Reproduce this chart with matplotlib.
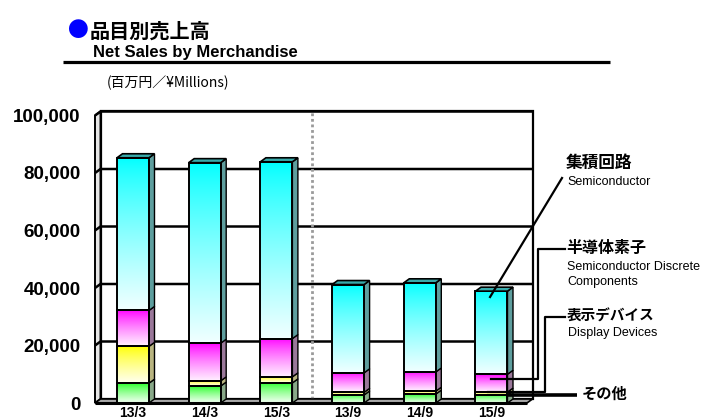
import numpy as np
import matplotlib
matplotlib.use('Agg')
import matplotlib.pyplot as plt
from matplotlib.patches import Polygon
from matplotlib.lines import Line2D

# ---------------- data ----------------
periods = ['13/3', '14/3', '15/3', '13/9', '14/9', '15/9']
others = [6900, 5900, 7000, 2800, 3100, 2800]          # その他
display = [12800, 1800, 2100, 900, 1000, 1000]         # 表示デバイス
discrete = [12500, 13100, 13300, 6800, 6700, 6200]     # 半導体素子
semicon = [53100, 62800, 61500, 30700, 31000, 28900]   # 集積回路
yticks = [0, 20000, 40000, 60000, 80000, 100000]
ytick_labels = ['0', '20,000', '40,000', '60,000', '80,000', '100,000']

CJK = 'Noto Sans CJK JP'
LAT = 'Liberation Sans'

W, H = 701, 419
fig = plt.figure(figsize=(W / 100, H / 100), dpi=100)

# layout in pixels
AX_L, AX_R, AX_T, AX_B = 95, 535, 108, 403
X0PX, XSTEP = 133, 71.7          # first bar center, spacing
YPX = 2.875                      # px per 1000
ax = fig.add_axes([AX_L / W, (H - AX_B) / H, (AX_R - AX_L) / W, (AX_B - AX_T) / H])
ax.set_xlim((AX_L - X0PX) / XSTEP, (AX_R - X0PX) / XSTEP)
ax.set_ylim(0, (AX_B - AX_T) / YPX * 1000)
for s in ax.spines.values():
    s.set_visible(False)


def px2data(px, py):
    return (px - X0PX) / XSTEP, (AX_B - py) / YPX * 1000


dx = 5.5 / XSTEP
dy = 4 / YPX * 1000
bw = 32 / XSTEP
xl = (95 - X0PX) / XSTEP
xr = (527 - X0PX) / XSTEP
ymax = yticks[-1]

# back wall
ax.add_patch(Polygon([(xl + dx, dy), (xr + dx, dy), (xr + dx, ymax + dy), (xl + dx, ymax + dy)],
                     closed=True, facecolor='white', edgecolor='black', lw=1.6, zorder=1, clip_on=False))
# left wall
ax.add_patch(Polygon([(xl, 0), (xl + dx, dy), (xl + dx, ymax + dy), (xl, ymax)],
                     closed=True, facecolor='#E6E6E6', edgecolor='black', lw=1.4, zorder=1.2, clip_on=False))
# gridlines
for v in yticks[1:]:
    ax.plot([xl, xl + dx, xr + dx], [v, v + dy, v + dy], color='black', lw=1.8, zorder=1.5,
            clip_on=False, solid_capstyle='butt')
# separator
ax.plot([2.5, 2.5], [dy, ymax + dy], color='#9A9A9A', lw=2, ls=(0, (1, 1)), zorder=1.6, clip_on=False)
# floor
ax.add_patch(Polygon([(xl, 0), (xl + dx, dy), (xr + dx, dy), (xr, 0)],
                     closed=True, facecolor='#A8A8A8', edgecolor='black', lw=1.2, zorder=1.8, clip_on=False))

series = [others, display, discrete, semicon]
tops = [(0.15, 1.0, 0.15), (1.0, 1.0, 0.0), (1.0, 0.0, 1.0), (0.0, 1.0, 1.0)]
sides = ['#88A888', '#B8B480', '#9A789A', '#5E9E9E']
top_face = '#38ABAB'


def gradient(c_top, c_bot, n=64):
    c_top = np.array(c_top)
    c_bot = np.array(c_bot)
    t = (np.linspace(0, 1, n) ** 0.8)[:, None]
    g = c_top * (1 - t) + c_bot * t
    return g[:, None, :]


x = np.arange(len(periods))
bottom = np.zeros(len(periods))
for s, vals in enumerate(series):
    vals = np.array(vals, dtype=float)
    ctop = tops[s]
    cbot = tuple(0.94 + 0.06 * c for c in ctop)
    for i in range(len(periods)):
        b, t = bottom[i], bottom[i] + vals[i]
        x0, x1 = x[i] - bw / 2, x[i] + bw / 2
        ax.imshow(gradient(ctop, cbot), extent=[x0, x1, b, t], aspect='auto',
                  interpolation='bilinear', zorder=3)
        ax.add_patch(Polygon([(x1, b), (x1 + dx, b + dy), (x1 + dx, t + dy), (x1, t)], closed=True,
                             facecolor=sides[s], edgecolor='black', lw=1.0, zorder=3.5))
    ax.bar(x, vals, bottom=bottom, width=bw, facecolor='none', edgecolor='black', lw=1.4, zorder=4)
    bottom = bottom + vals

for i in range(len(periods)):
    x0, x1 = x[i] - bw / 2, x[i] + bw / 2
    T = bottom[i]
    ax.add_patch(Polygon([(x0, T), (x0 + dx, T + dy), (x1 + dx, T + dy), (x1, T)], closed=True,
                         facecolor=top_face, edgecolor='black', lw=1.2, zorder=4.5))

# floor front edge
ax.plot([xl, xr], [0, 0], color='black', lw=2.2, zorder=5, clip_on=False, solid_capstyle='butt')

# ticks
ax.set_yticks(yticks, ytick_labels)
ax.set_xticks(x, periods)
ax.tick_params(axis='y', length=0, pad=10.5)
ax.tick_params(axis='x', length=0, pad=2.5)
for lab in ax.get_yticklabels():
    lab.set_fontfamily(LAT)
    lab.set_fontweight('bold')
    lab.set_fontsize(13.5)
for lab in ax.get_xticklabels():
    lab.set_fontfamily(LAT)
    lab.set_fontweight('bold')
    lab.set_fontsize(10)

# leader lines
k = 5
cum0 = others[k]
cum1 = cum0 + display[k]
cum2 = cum1 + discrete[k]
cum3 = cum2 + semicon[k]
xs_, ys_ = px2data(562, 178)
ax.plot([x[k] - 0.02, xs_], [cum3 - 0.07 * semicon[k], ys_], color='black', lw=1.6, zorder=6, clip_on=False)
xa, _ = px2data(538, 0)
xb, yb = px2data(565, 249)
ydisc = cum1 + 0.75 * discrete[k]
ax.plot([x[k], xa, xa, xb], [ydisc, ydisc, yb, yb], color='black', lw=1.6, zorder=6, clip_on=False)
xa, _ = px2data(545, 0)
xb, yb = px2data(565, 316.5)
ydis = cum0 + 0.9 * display[k]
ax.plot([x[k] - 0.05, xa, xa, xb], [ydis, ydis, yb, yb], color='black', lw=1.6, zorder=6, clip_on=False)
xb, _ = px2data(577, 0)
ax.plot([x[k] + bw / 2, xb], [cum0, cum0], color='black', lw=2.6, zorder=6, clip_on=False,
        solid_capstyle='butt')


def ftext(px, py, s, **kw):
    fig.text(px / W, 1 - py / H, s, **kw)


# titles
ftext(68, 31, '●', color='#0000FF', fontsize=15, family=[CJK, 'DejaVu Sans'], va='center')
ftext(90, 31, '品目別売上高', color='black', fontsize=14.5, weight='bold', family=[CJK], va='center')
ftext(93, 57.5, 'Net Sales by Merchandise', fontsize=12, weight='bold', family=[LAT], va='baseline')
fig.add_artist(Line2D([63 / W, 610 / W], [1 - 62.5 / H] * 2, color='black', lw=2.3,
                      transform=fig.transFigure, solid_capstyle='butt'))
ftext(107, 83, '(百万円／¥Millions)', fontsize=10, family=[CJK, 'DejaVu Sans'], va='center')

# right labels
ftext(566, 163, '集積回路', fontsize=12, weight='bold', family=[CJK], va='center')
ftext(567, 185, 'Semiconductor', fontsize=9, family=[LAT], va='baseline')
ftext(566, 247.5, '半導体素子', fontsize=11.5, weight='bold', family=[CJK], va='center')
ftext(567, 270, 'Semiconductor Discrete', fontsize=9, family=[LAT], va='baseline')
ftext(567, 285, 'Components', fontsize=9, family=[LAT], va='baseline')
ftext(567, 316, '表示デバイス', fontsize=10.5, weight='bold', family=[CJK], va='center')
ftext(568, 336, 'Display Devices', fontsize=9, family=[LAT], va='baseline')
ftext(582, 394, 'その他', fontsize=11, weight='bold', family=[CJK], va='center')

fig.savefig('out.png', dpi=100)
